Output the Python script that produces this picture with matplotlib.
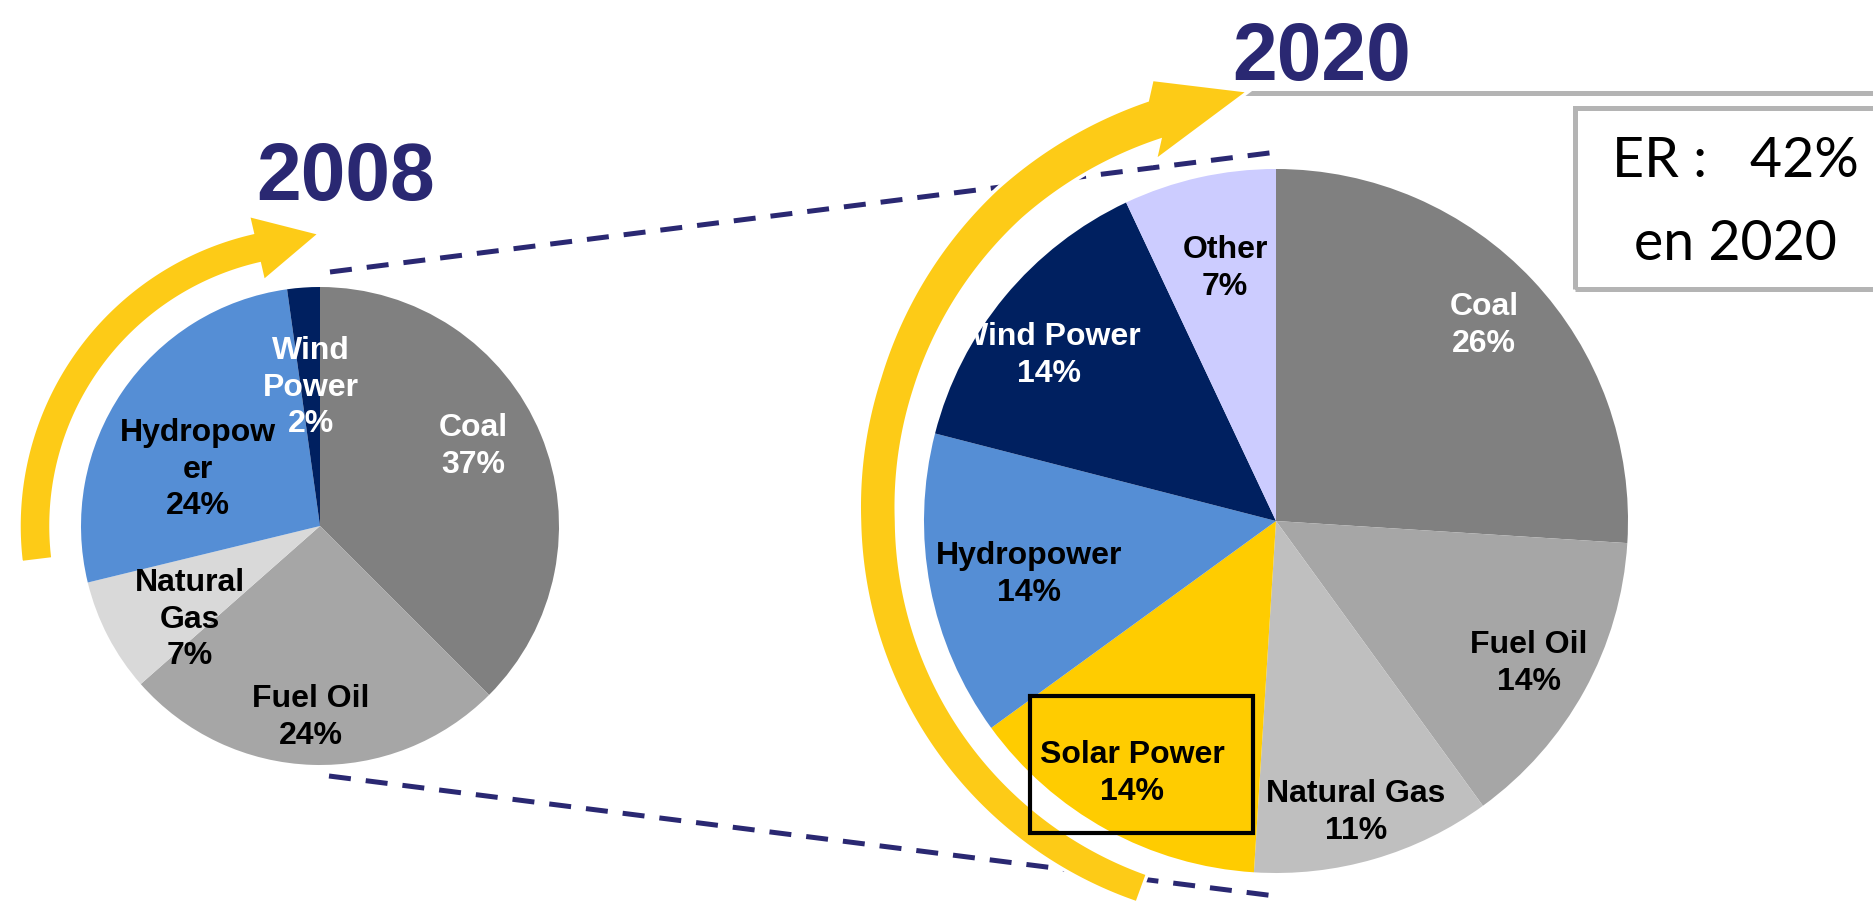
import matplotlib
matplotlib.use('Agg')
import matplotlib.pyplot as plt
import numpy as np
from matplotlib.patches import Polygon, Rectangle

W, H = 1873, 901

# electricity mix 2008 (slice shares read from the wedges, labels as printed)
names_2008 = ['Coal', 'Fuel Oil', 'Natural\nGas', 'Hydropow\ner', 'Wind\nPower']
shares_2008 = [37.5, 26.0, 7.7, 26.6, 2.2]
pct_2008 = ['37%', '24%', '7%', '24%', '2%']

# electricity mix 2020
names_2020 = ['Coal', 'Fuel Oil', 'Natural Gas', 'Solar Power', 'Hydropower', 'Wind Power', 'Other']
shares_2020 = [26, 14, 11, 14, 14, 14, 7]
pct_2020 = ['26%', '14%', '11%', '14%', '14%', '14%', '7%']

er_share = '42%'
years = ['2008', '2020']

# styling
colors_2008 = ['#808080', '#A6A6A6', '#D9D9D9', '#558ED5', '#002060']
colors_2020 = ['#808080', '#A6A6A6', '#BFBFBF', '#FFCC00', '#558ED5', '#002060', '#CCCCFF']
txt_2008 = ['white', 'black', 'black', 'black', 'white']
txt_2020 = ['white', 'black', 'black', 'black', 'black', 'white', 'black']
pos_2008 = [(473, 443), (311, 714), (190, 616), (198, 466), (311, 384)]
pos_2020 = [(1484, 322), (1529, 660), (1356, 809), (1132, 770), (1029, 571), (1049, 352), (1225, 265)]
navy = '#2A2872'
gold = '#FDCB17'
grey_line = '#B4B4B4'

fig = plt.figure(figsize=(W / 100, H / 100), dpi=100)
ax = fig.add_axes([0, 0, 1, 1])


def py(y):
    # pixel row (from top) -> data y
    return H - y


def block(x, yc, lines, color, size=23, gap=36.5, cap=23):
    n = len(lines)
    b0 = yc + cap / 2 - (n - 1) * gap / 2
    for i, s in enumerate(lines):
        ax.text(x, py(b0 + i * gap), s, ha='center', va='baseline', color=color,
                fontsize=size, fontweight='bold', family='Liberation Sans', zorder=6)


def arc_arrow(cx, cy, th0, th1, rm_nodes, hw_nodes, head_hw, head_len, base_deg=None):
    # th0 -> th1 clockwise (degrees), radius/half width interpolated over angle
    th = np.linspace(th0, th1, 300)
    nodes = rm_nodes[0]
    rm = np.interp(th, nodes, rm_nodes[1])
    hw = np.interp(th, nodes, hw_nodes)
    t = np.radians(th)
    cyd = py(cy)
    outer = np.column_stack([cx + (rm + hw) * np.cos(t), cyd + (rm + hw) * np.sin(t)])
    inner = np.column_stack([cx + (rm - hw) * np.cos(t), cyd + (rm - hw) * np.sin(t)])
    te = t[-1]
    bd = te if base_deg is None else np.radians(base_deg)
    u = np.array([np.cos(bd), np.sin(bd)])
    tg = np.array([np.sin(te), -np.cos(te)])
    b = np.array([cx, cyd]) + rm[-1] * np.array([np.cos(te), np.sin(te)])
    head = np.array([b + head_hw * u, b + head_len * tg, b - head_hw * u])
    pts = np.vstack([outer, head, inner[::-1]])
    ax.add_patch(Polygon(pts, closed=True, facecolor=gold, edgecolor='white',
                         linewidth=2.5, zorder=4))


# zoom lines between the two pies
ax.plot([330, 1277], [py(272), py(152)], color=navy, lw=3.6, dashes=(4.4, 3.0), zorder=2)
ax.plot([329, 1283], [py(776), py(897)], color=navy, lw=3.6, dashes=(4.4, 3.0), zorder=2)

# pies
ax.pie(shares_2008, colors=colors_2008, startangle=90, counterclock=False,
       center=(320, py(526)), radius=239, wedgeprops=dict(linewidth=0))
ax.pie(shares_2020, colors=colors_2020, startangle=90, counterclock=False,
       center=(1276, py(521)), radius=352, wedgeprops=dict(linewidth=0))

for name, p, c, (x, y) in zip(names_2008, pct_2008, txt_2008, pos_2008):
    block(x, y, name.split('\n') + [p], c)
for name, p, c, (x, y) in zip(names_2020, pct_2020, txt_2020, pos_2020):
    block(x, y, name.split('\n') + [p], c)

# solar highlight box
ax.add_patch(Rectangle((1030, py(833)), 223, 137, fill=False, edgecolor='black',
                       linewidth=3, zorder=7))

# yellow arrows
arc_arrow(320, 526, 187, 103, ([103, 187], [285, 285]), [16, 16], 34, 66)
arc_arrow(1276, 521, 250, 107, ([107, 130, 160, 180, 250], [419, 414, 403, 398, 391]),
          [21, 20, 18.5, 18.5, 15.5], 41, 100, base_deg=92)

# titles
ax.plot([1237, W + 5], [py(92.5), py(92.5)], color=grey_line, lw=3.6, zorder=3,
        solid_capstyle='butt')
ax.text(346, py(200), years[0], ha='center', va='baseline', color=navy,
        fontsize=58, fontweight='bold', family='Liberation Sans')
ax.text(1322, py(80), years[1], ha='center', va='baseline', color=navy,
        fontsize=58, fontweight='bold', family='Liberation Sans')

# renewable energy target box
ax.add_patch(Rectangle((1575, py(289)), 330, 181, fill=False, edgecolor=grey_line,
                       linewidth=3.6, zorder=3))
ax.text(1735, py(177), 'ER :   ' + er_share, ha='center', va='baseline',
        fontsize=40, family='Lato', color='black')
ax.text(1735, py(260), 'en 2020', ha='center', va='baseline',
        fontsize=40, family='Lato', color='black')

ax.set_xlim(0, W)
ax.set_ylim(0, H)
ax.axis('off')

plt.savefig('out.png', dpi=100)
